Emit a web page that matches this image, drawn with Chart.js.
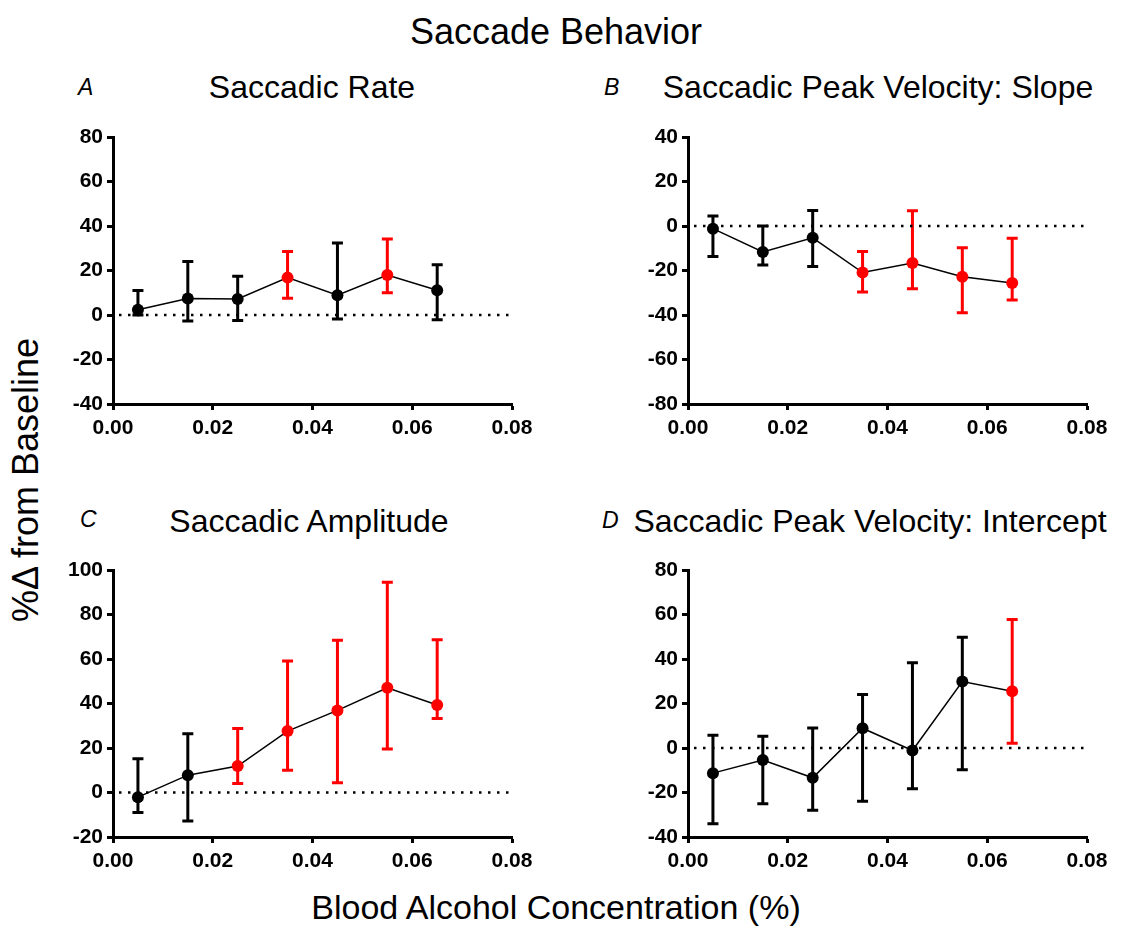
<!DOCTYPE html>
<html>
<head>
<meta charset="utf-8">
<script src="https://cdn.jsdelivr.net/npm/chart.js@4"></script>
<style>
  body { margin: 0; background: #fff; }
  #wrap { position: relative; width: 1133px; height: 931px; font-family: "Liberation Sans", Arial, sans-serif; color: #000; }
  .txt { position: absolute; line-height: 1; white-space: nowrap; }
  .ctr { transform: translateX(-50%); }
  .big { font-size: 36px; }
  .ptitle { font-size: 32px; }
  .letter { font-size: 23px; font-style: italic; }
  canvas { position: absolute; }
</style>
</head>
<body>
<div id="wrap">
  <div class="txt ctr big" style="left:556px; top:14px;">Saccade Behavior</div>

  <div class="txt letter" style="left:78px; top:76px;">A</div>
  <div class="txt ctr ptitle" style="left:312px; top:71px;">Saccadic Rate</div>
  <div class="txt letter" style="left:604px; top:76px;">B</div>
  <div class="txt ctr ptitle" style="left:878px; top:71px;">Saccadic Peak Velocity: Slope</div>

  <div class="txt letter" style="left:80px; top:508px;">C</div>
  <div class="txt ctr ptitle" style="left:309px; top:505px;">Saccadic Amplitude</div>
  <div class="txt letter" style="left:602px; top:509px;">D</div>
  <div class="txt ctr ptitle" style="left:870px; top:505px;">Saccadic Peak Velocity: Intercept</div>

  <div class="txt" style="left:26px; top:480px; font-size:36px; transform: translate(-50%, -50%) rotate(-90deg);">%Δ from Baseline</div>
  <div class="txt ctr" style="left:556px; top:890px; font-size:34px;">Blood Alcohol Concentration (%)</div>

  <canvas id="rate" width="499" height="332" style="left:43px; top:117px;"></canvas>
  <canvas id="slope" width="499" height="332" style="left:618px; top:117px;"></canvas>
  <canvas id="amp" width="499" height="332" style="left:43px; top:550px;"></canvas>
  <canvas id="icpt" width="499" height="332" style="left:618px; top:550px;"></canvas>
</div>

<script>
// blood alcohol levels (x)
const bac = [0.005, 0.015, 0.025, 0.035, 0.045, 0.055, 0.065];
const xTicks = [0, 0.02, 0.04, 0.06, 0.08];

// A - saccadic rate
const rateMean  = [2.4, 7.4, 7.2, 16.8, 8.9, 18.0, 11.1];
const rateUpper = [11.0, 24.1, 17.4, 28.5, 32.4, 34.2, 22.6];
const rateLower = [0, -2.7, -2.5, 7.5, -1.8, 10.0, -2.1];
const rateSig   = [0, 0, 0, 1, 0, 1, 0];

// B - peak velocity slope
const slopeMean  = [-1.2, -11.7, -5.3, -20.9, -16.6, -22.8, -25.6];
const slopeUpper = [4.5, 0, 7.0, -11.5, 6.8, -9.8, -5.5];
const slopeLower = [-13.7, -17.5, -18.2, -29.7, -28.2, -39.0, -33.3];
const slopeSig   = [0, 0, 0, 1, 1, 1, 1];

// C - amplitude
const ampMean  = [-2.1, 7.8, 11.9, 27.6, 36.9, 47.1, 39.3];
const ampUpper = [15.2, 26.4, 28.8, 59.1, 68.4, 94.5, 68.6];
const ampLower = [-9.0, -12.8, 4.1, 10.0, 4.4, 19.5, 33.3];
const ampSig   = [0, 0, 1, 1, 1, 1, 1];

// D - peak velocity intercept
const icptMean  = [-11.3, -5.4, -13.4, 8.9, -1.1, 29.9, 25.5];
const icptUpper = [5.7, 5.3, 9.0, 24.0, 38.3, 49.8, 57.8];
const icptLower = [-34.0, -25.0, -28.0, -23.9, -18.3, -9.8, 2.1];
const icptSig   = [0, 0, 0, 0, 0, 0, 1];

Chart.defaults.font.family = '"Liberation Sans", Arial, sans-serif';
Chart.defaults.color = '#000';

const RED = '#ff0000';
const BLACK = '#000000';

// draws the SD bars under the points
const errorBars = {
  id: 'errorBars',
  beforeDatasetsDraw(chart, args, opts) {
    const { ctx, scales: { x, y } } = chart;
    ctx.save();
    ctx.lineWidth = 3;
    opts.lower.forEach((lo, i) => {
      const px = x.getPixelForValue(bac[i]);
      const top = y.getPixelForValue(opts.upper[i]);
      const bot = y.getPixelForValue(lo);
      ctx.strokeStyle = opts.colors[i];
      ctx.beginPath();
      ctx.moveTo(px, top); ctx.lineTo(px, bot);
      ctx.moveTo(px - 5.5, top); ctx.lineTo(px + 5.5, top);
      ctx.moveTo(px - 5.5, bot); ctx.lineTo(px + 5.5, bot);
      ctx.stroke();
    });
    ctx.restore();
  }
};

function makePanel(id, mean, lower, upper, sig, yMin, yMax) {
  const colors = sig.map(s => s ? RED : BLACK);
  new Chart(document.getElementById(id), {
    type: 'line',
    data: {
      datasets: [
        {
          data: bac.map((b, i) => ({ x: b, y: mean[i] })),
          borderColor: BLACK,
          borderWidth: 1.5,
          pointRadius: 6,
          pointBorderWidth: 0,
          pointBackgroundColor: colors,
          tension: 0
        },
        {
          data: [{ x: 0, y: 0 }, { x: 0.08, y: 0 }],
          borderColor: BLACK,
          borderWidth: 2.5,
          borderDash: [2.5, 6.5],
          borderDashOffset: -6,
          pointRadius: 0
        }
      ]
    },
    options: {
      responsive: false,
      animation: false,
      layout: { padding: { top: 20, right: 30, left: 0, bottom: 0 } },
      plugins: {
        legend: { display: false },
        tooltip: { enabled: false },
        errorBars: { lower: lower, upper: upper, colors: colors }
      },
      scales: {
        x: {
          type: 'linear',
          min: 0, max: 0.08,
          afterFit: s => { s.height = 45; },
          afterBuildTicks: s => { s.ticks = xTicks.map(v => ({ value: v })); },
          ticks: {
            font: { size: 21, weight: 'bold' },
            padding: 6,
            callback: v => v.toFixed(2)
          },
          grid: { drawOnChartArea: false, drawTicks: true, tickLength: 6, tickWidth: 3, tickColor: BLACK },
          border: { display: true, width: 3, color: BLACK }
        },
        y: {
          min: yMin, max: yMax,
          afterFit: s => { s.width = 70; },
          ticks: { stepSize: 20, font: { size: 21, weight: 'bold' }, padding: 4 },
          grid: { drawOnChartArea: false, drawTicks: true, tickLength: 6, tickWidth: 3, tickColor: BLACK },
          border: { display: true, width: 3, color: BLACK }
        }
      }
    },
    plugins: [errorBars]
  });
}

makePanel('rate', rateMean, rateLower, rateUpper, rateSig, -40, 80);
makePanel('slope', slopeMean, slopeLower, slopeUpper, slopeSig, -80, 40);
makePanel('amp', ampMean, ampLower, ampUpper, ampSig, -20, 100);
makePanel('icpt', icptMean, icptLower, icptUpper, icptSig, -40, 80);
</script>
</body>
</html>
